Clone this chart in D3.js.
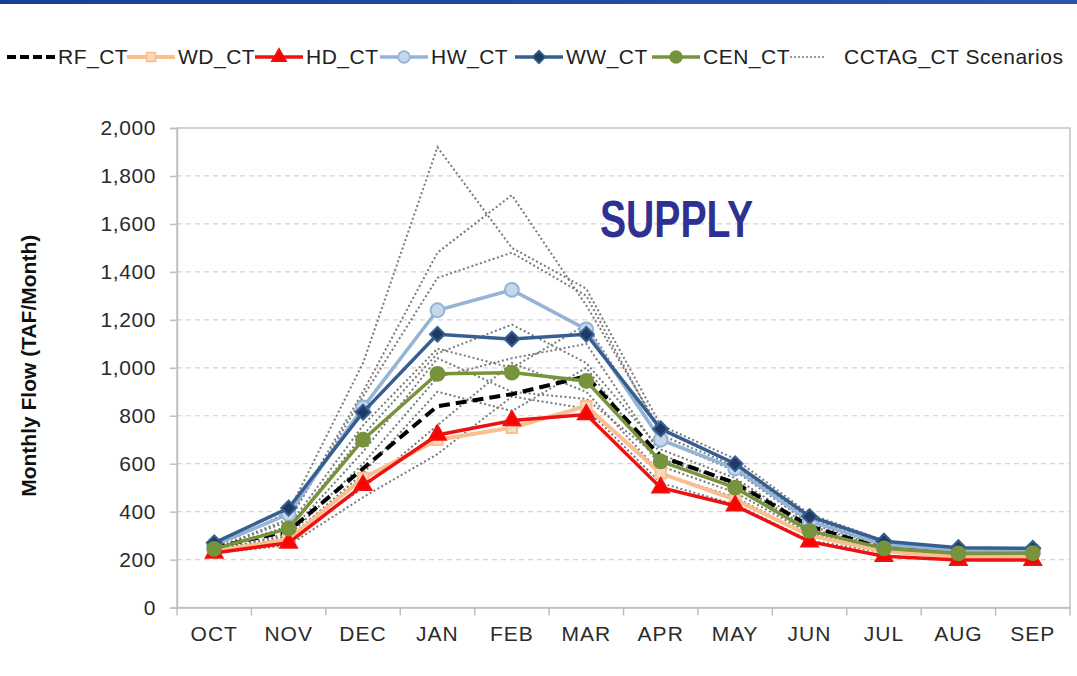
<!DOCTYPE html>
<html lang="en">
<head>
	<meta charset="utf-8">
	<title>Monthly supply flow by climate scenario</title>
	<script src="https://d3js.org/d3.v7.min.js"></script>
	<style>
		body { margin: 0; background: #fff; }
		text { font-family: "Liberation Sans", Arial, sans-serif; }
	</style>
</head>
<body>
	<script>
		//Page size
		var w = 1077;
		var h = 676;

		//Chart values (TAF/Month)
		var months = ["OCT", "NOV", "DEC", "JAN", "FEB", "MAR", "APR", "MAY", "JUN", "JUL", "AUG", "SEP"];
		var yTicks = [0, 200, 400, 600, 800, 1000, 1200, 1400, 1600, 1800, 2000];

		var rfCT  = [250, 320, 580, 840, 890, 965, 630, 520, 340, 245, 225, 225];
		var wdCT  = [235, 285, 540, 700, 750, 840, 560, 450, 300, 235, 212, 212];
		var hdCT  = [228, 270, 510, 720, 780, 805, 500, 425, 275, 214, 198, 198];
		var hwCT  = [260, 390, 835, 1240, 1325, 1160, 700, 580, 360, 265, 238, 238];
		var wwCT  = [270, 415, 815, 1140, 1120, 1140, 745, 600, 380, 277, 250, 247];
		var cenCT = [245, 330, 700, 975, 980, 945, 610, 500, 320, 247, 226, 227];

		//CCTAG_CT scenarios (dotted grey lines)
		var scen1  = [250, 400, 1020, 1920, 1500, 1330, 760, 620, 390, 280, 245, 245];
		var scen2  = [245, 370, 900, 1480, 1720, 1260, 740, 600, 370, 270, 240, 240];
		var scen3  = [245, 360, 880, 1375, 1480, 1300, 720, 590, 365, 265, 240, 240];
		var scen4  = [240, 340, 760, 1080, 1000, 1180, 700, 570, 350, 260, 235, 235];
		var scen5  = [240, 330, 720, 1060, 1180, 1020, 660, 540, 340, 255, 230, 230];
		var scen6  = [235, 310, 650, 1040, 900, 870, 620, 520, 330, 250, 230, 230];
		var scen7  = [235, 300, 600, 960, 1040, 1100, 640, 510, 320, 245, 225, 225];
		var scen8  = [230, 290, 560, 900, 820, 1000, 590, 480, 310, 240, 222, 222];
		var scen9  = [230, 280, 500, 760, 1020, 900, 560, 460, 300, 235, 220, 220];
		var scen10 = [228, 260, 460, 640, 880, 830, 520, 430, 280, 230, 215, 215];
		var scenarios = [scen1, scen2, scen3, scen4, scen5, scen6, scen7, scen8, scen9, scen10];

		//Named series, drawn in legend order so the later ones sit on top
		var series = [
			{ name: "RF_CT",  values: rfCT,  color: "#000000", width: 4,   dash: "11,6", marker: null },
			{ name: "WD_CT",  values: wdCT,  color: "#f9bf8f", width: 4,   dash: null,   marker: "square",   fill: "#fcd9bc" },
			{ name: "HD_CT",  values: hdCT,  color: "#ee1111", width: 3.5, dash: null,   marker: "triangle", fill: "#ff0000" },
			{ name: "HW_CT",  values: hwCT,  color: "#95b3d7", width: 3.5, dash: null,   marker: "circle",   fill: "#c5d7ec" },
			{ name: "WW_CT",  values: wwCT,  color: "#365f8f", width: 3.5, dash: null,   marker: "diamond",  fill: "#1f3b63" },
			{ name: "CEN_CT", values: cenCT, color: "#77933c", width: 3.5, dash: null,   marker: "circle",   fill: "#77933c" }
		];

		var svg = d3.select("body")
			.append("svg")
			.attr("width", w)
			.attr("height", h);

		//Thin blue banner along the top edge
		var grad = svg.append("defs").append("linearGradient").attr("id", "band");
		grad.append("stop").attr("offset", "0%").attr("stop-color", "#173f95");
		grad.append("stop").attr("offset", "100%").attr("stop-color", "#2a56b0");
		svg.append("rect").attr("x", 0).attr("y", 0).attr("width", w).attr("height", 4).attr("fill", "url(#band)");

		//Plot area edges (note: "top" is taken by window.top, so plot* names)
		var plotLeft = 177, plotRight = 1070, plotTop = 128, plotBottom = 607.6;

		var x = d3.scaleBand()
			.domain(months)
			.range([plotLeft, plotRight]);

		var y = d3.scaleLinear()
			.domain([0, 2000])
			.range([plotBottom, plotTop]);

		//Dashed horizontal gridlines
		svg.append("g")
			.selectAll("line")
			.data(yTicks.filter(function(d) { return d > 0 && d < 2000; }))
			.enter()
			.append("line")
			.attr("x1", plotLeft)
			.attr("x2", plotRight)
			.attr("y1", function(d) { return y(d); })
			.attr("y2", function(d) { return y(d); })
			.attr("stroke", "#d4d4d4")
			.attr("stroke-width", 1.2)
			.attr("stroke-dasharray", "5,4");

		//Plot border
		svg.append("rect")
			.attr("x", plotLeft)
			.attr("y", plotTop)
			.attr("width", plotRight - plotLeft)
			.attr("height", plotBottom - plotTop)
			.attr("fill", "none")
			.attr("stroke", "#c4c4c4")
			.attr("stroke-width", 1.5);

		//Y axis
		var yAxis = svg.append("g")
			.attr("transform", "translate(" + plotLeft + ",0)")
			.call(d3.axisLeft(y).tickValues(yTicks).tickSize(7).tickPadding(14).tickFormat(d3.format(",")));
		yAxis.select(".domain").attr("stroke", "#bfbfbf").attr("stroke-width", 1.5);
		yAxis.selectAll(".tick line").attr("stroke", "#bfbfbf").attr("stroke-width", 1.5);
		yAxis.selectAll(".tick text")
			.attr("font-size", "21px")
			.attr("letter-spacing", "0.6px")
			.attr("font-family", "Liberation Sans, Arial, sans-serif")
			.attr("fill", "#2b2b2b");

		//X axis: ticks at category boundaries, labels centred
		var xAxis = svg.append("g")
			.attr("transform", "translate(0," + plotBottom + ")")
			.call(d3.axisBottom(x).tickSize(0).tickPadding(18));
		xAxis.select(".domain").attr("stroke", "#bfbfbf").attr("stroke-width", 1.5);
		xAxis.selectAll(".tick text")
			.attr("font-size", "21px")
			.attr("letter-spacing", "1px")
			.attr("font-family", "Liberation Sans, Arial, sans-serif")
			.attr("fill", "#2b2b2b");
		svg.append("g")
			.selectAll("line")
			.data(months.concat(["end"]))
			.enter()
			.append("line")
			.attr("x1", function(d, i) { return plotLeft + i * x.bandwidth(); })
			.attr("x2", function(d, i) { return plotLeft + i * x.bandwidth(); })
			.attr("y1", plotBottom)
			.attr("y2", plotBottom + 8)
			.attr("stroke", "#bfbfbf")
			.attr("stroke-width", 1.5);

		//Y axis title
		svg.append("text")
			.attr("transform", "translate(36," + ((plotTop + plotBottom) / 2 - 2) + ") rotate(-90)")
			.attr("text-anchor", "middle")
			.attr("font-size", "21px")
			.attr("font-weight", "bold")
			.attr("fill", "#111")
			.text("Monthly Flow (TAF/Month)");

		var line = d3.line()
			.x(function(d, i) { return x(months[i]) + x.bandwidth() / 2; })
			.y(function(d) { return y(d); });

		//Scenario lines
		svg.append("g")
			.selectAll("path")
			.data(scenarios)
			.enter()
			.append("path")
			.attr("d", line)
			.attr("fill", "none")
			.attr("stroke", "#7a7a7a")
			.attr("stroke-width", 2)
			.attr("stroke-dasharray", "2,2.5");

		//Marker shapes (diamond is a square turned 45 degrees)
		var symbolFor = {
			square: { path: d3.symbol().type(d3.symbolSquare).size(110)(), rot: 0 },
			triangle: { path: d3.symbol().type(d3.symbolTriangle).size(120)(), rot: 0 },
			circle: { path: d3.symbol().type(d3.symbolCircle).size(150)(), rot: 0 },
			diamond: { path: d3.symbol().type(d3.symbolSquare).size(110)(), rot: 45 }
		};

		series.forEach(function(s) {
			var g = svg.append("g");
			g.append("path")
				.attr("d", line(s.values))
				.attr("fill", "none")
				.attr("stroke", s.color)
				.attr("stroke-width", s.width)
				.attr("stroke-dasharray", s.dash);
			if (s.marker) {
				var sym = symbolFor[s.marker];
				g.selectAll("path.m")
					.data(s.values)
					.enter()
					.append("path")
					.attr("class", "m")
					.attr("d", sym.path)
					.attr("transform", function(d, i) {
						return "translate(" + (x(months[i]) + x.bandwidth() / 2) + "," + y(d) + ") rotate(" + sym.rot + ")";
					})
					.attr("fill", s.fill)
					.attr("stroke", s.color)
					.attr("stroke-width", 2);
			}
		});

		//SUPPLY label, squeezed to the narrow bold face of the original
		svg.append("text")
			.attr("x", 600)
			.attr("y", 237)
			.attr("textLength", 153)
			.attr("lengthAdjust", "spacingAndGlyphs")
			.attr("font-size", "51px")
			.attr("font-weight", "bold")
			.attr("fill", "#2e3192")
			.text("SUPPLY");

		//Legend across the top
		var legendItems = series.map(function(s) { return s; })
			.concat([{ name: "CCTAG_CT Scenarios", color: "#7a7a7a", width: 1.5, dash: "2,2", marker: null, scen: true }]);
		var legendStarts = [7, 127, 255, 380, 515, 652, 790];
		var legendY = 57;
		legendItems.forEach(function(s, i) {
			var g = svg.append("g").attr("transform", "translate(" + legendStarts[i] + "," + legendY + ")");
			var len = s.scen ? 36 : 48;
			g.append("line")
				.attr("x1", 0).attr("x2", len)
				.attr("y1", 0).attr("y2", 0)
				.attr("stroke", s.color)
				.attr("stroke-width", s.scen ? 1.5 : s.width)
				.attr("stroke-dasharray", s.name === "RF_CT" ? "9,4" : s.dash);
			if (s.marker) {
				var sym = symbolFor[s.marker];
				g.append("path")
					.attr("d", sym.path)
					.attr("transform", "translate(" + (len / 2) + ",0) rotate(" + sym.rot + ") scale(0.85)")
					.attr("fill", s.fill)
					.attr("stroke", s.color)
					.attr("stroke-width", 2);
			}
			g.append("text")
				.attr("x", len + (s.scen ? 18 : 3))
				.attr("y", 7)
				.attr("font-size", "21px")
				.attr("letter-spacing", "0.5px")
				.attr("fill", "#222")
				.text(s.name);
		});
	</script>
</body>
</html>
